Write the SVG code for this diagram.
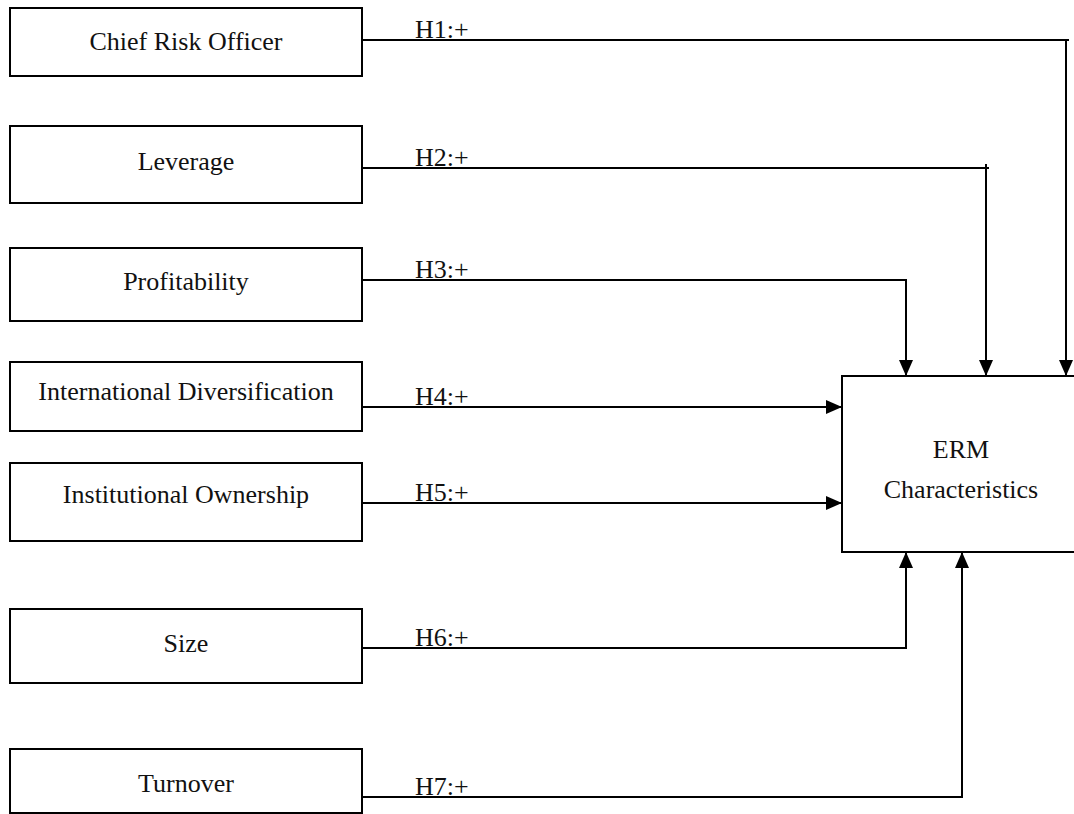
<svg xmlns="http://www.w3.org/2000/svg" width="1074" height="814" viewBox="0 0 1074 814">
<style>
.box{fill:#fff;stroke:#000;stroke-width:2}
.t{font-family:"Liberation Serif","Times New Roman",serif;font-size:26px;fill:#111;text-anchor:middle}
.lbl{font-family:"Liberation Serif","Times New Roman",serif;font-size:26px;fill:#111}
.c{fill:none;stroke:#000;stroke-width:2}
</style>
<defs>
<marker id="ah" markerUnits="userSpaceOnUse" markerWidth="16" markerHeight="14" refX="16" refY="7" orient="auto">
<path d="M0,0 L16,7 L0,14 z" fill="#000"/>
</marker>
</defs>
<rect width="1074" height="814" fill="#fff"/>
<g id="n1"><rect class="box" x="10" y="8" width="352" height="68"/><text class="t" x="186" y="50">Chief Risk Officer</text></g>
<g id="n2"><rect class="box" x="10" y="126" width="352" height="77"/><text class="t" x="186" y="170">Leverage</text></g>
<g id="n3"><rect class="box" x="10" y="248" width="352" height="73"/><text class="t" x="186" y="290">Profitability</text></g>
<g id="n4"><rect class="box" x="10" y="362" width="352" height="69"/><text class="t" x="186" y="400">International Diversification</text></g>
<g id="n5"><rect class="box" x="10" y="463" width="352" height="78"/><text class="t" x="186" y="503">Institutional Ownership</text></g>
<g id="n6"><rect class="box" x="10" y="609" width="352" height="74"/><text class="t" x="186" y="652">Size</text></g>
<g id="n7"><rect class="box" x="10" y="749" width="352" height="64"/><text class="t" x="186" y="792">Turnover</text></g>
<g id="erm"><rect class="box" x="842" y="376" width="240" height="176"/><text class="t" x="961" y="458">ERM</text><text class="t" x="961" y="498">Characteristics</text></g>
<g id="connectors">
<path class="c" d="M362,40 H1069"/>
<path class="c" d="M1066,40 V376" marker-end="url(#ah)"/>
<path class="c" d="M362,168 H989"/>
<path class="c" d="M986,164 V376" marker-end="url(#ah)"/>
<path class="c" d="M362,280 H906 V376" marker-end="url(#ah)"/>
<path class="c" d="M362,407 H842" marker-end="url(#ah)"/>
<path class="c" d="M362,503 H842" marker-end="url(#ah)"/>
<path class="c" d="M362,648 H906 V552" marker-end="url(#ah)"/>
<path class="c" d="M362,797 H962 V552" marker-end="url(#ah)"/>
<text class="lbl" x="415" y="38">H1:+</text>
<text class="lbl" x="415" y="166">H2:+</text>
<text class="lbl" x="415" y="278">H3:+</text>
<text class="lbl" x="415" y="405">H4:+</text>
<text class="lbl" x="415" y="501">H5:+</text>
<text class="lbl" x="415" y="646">H6:+</text>
<text class="lbl" x="415" y="795">H7:+</text>
</g>
</svg>
